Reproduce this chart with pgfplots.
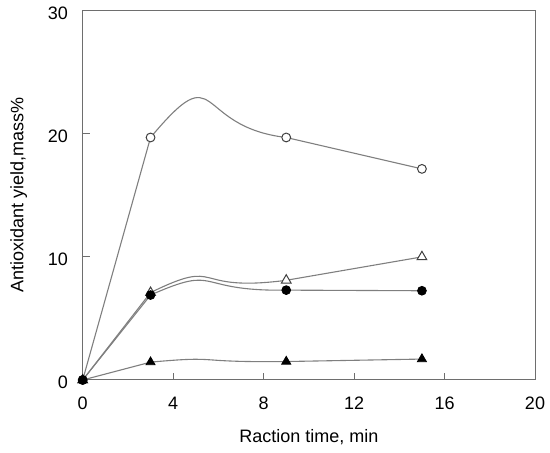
\documentclass[border=0pt]{standalone}
\usepackage{pgfplots}
\pgfplotsset{compat=1.18}
\usepackage{fontspec}
\setmainfont{Liberation Sans}
\definecolor{curvegray}{HTML}{7F7F7F}
\definecolor{framegray}{HTML}{6E6E6E}
\pgfplotsset{
  mycurve/.style={draw=curvegray, line width=0.55pt, mark=none, forget plot},
}
\begin{document}
\begin{tikzpicture}
\useasboundingbox (-41.35pt,-36.5pt) rectangle (233.65pt,190pt);
\begin{axis}[
  at={(0pt,0pt)}, anchor=south west,
  scale only axis, width=226.15pt, height=184.65pt,
  xmin=0, xmax=20, ymin=0, ymax=30,
  xtick={0,4,8,12,16,20}, ytick={0,10,20,30},
  tick align=inside, xtick pos=bottom, ytick pos=left,
  major tick length=3.5pt,
  axis line style={draw=framegray, line width=0.5pt},
  every tick/.style={draw=framegray, line width=0.5pt},
  /pgf/number format/assume math mode=true,
  every tick label/.append style={font=\fontsize{9}{11}\selectfont, text=black},
  xticklabel style={anchor=base, yshift=-14.6pt, inner sep=0pt},
  yticklabel style={anchor=east, xshift=-7.2pt, yshift=-1.2pt, inner sep=0pt},
  xlabel={Raction time, min},
  ylabel={Antioxidant yield,mass\%},
  label style={font=\fontsize{9}{11}\selectfont},
  xlabel style={at={(axis description cs:0.5,0)}, anchor=base, yshift=-31.5pt, inner sep=0pt},
  ylabel style={at={(axis description cs:-0.1607,0.5)}, anchor=north, inner sep=0pt},
]
% open circles
\addplot[mycurve] coordinates {(0,0)(3,19.7)};
\begin{scope}
\clip (axis cs:3,-5) rectangle (axis cs:9,35);
\addplot[mycurve, smooth, tension=1.25] coordinates {(0,0)(3,19.7)(9,19.7)(15,17.15)};
\end{scope}
\addplot[mycurve] coordinates {(9,19.7)(15,17.15)};
% open triangles
\addplot[mycurve] coordinates {(0,0)(3,7.1)};
\begin{scope}
\clip (axis cs:3,-5) rectangle (axis cs:9,35);
\addplot[mycurve, smooth, tension=1.3] coordinates {(0,0)(3,7.1)(9,8.1)(15,10.0)};
\end{scope}
\addplot[mycurve] coordinates {(9,8.1)(15,10.0)};
% filled circles
\addplot[mycurve] coordinates {(0,0)(3,6.9)};
\begin{scope}
\clip (axis cs:3,-5) rectangle (axis cs:9,35);
\addplot[mycurve, smooth, tension=1.25] coordinates {(0,0)(3,6.9)(9,7.3)(15,7.25)};
\end{scope}
\addplot[mycurve] coordinates {(9,7.3)(15,7.25)};
% filled triangles
\addplot[mycurve] coordinates {(0,0)(3,1.45)};
\begin{scope}
\clip (axis cs:3,-5) rectangle (axis cs:9,35);
\addplot[mycurve, smooth, tension=1.3] coordinates {(0,0)(3,1.45)(9,1.5)(15,1.7)};
\end{scope}
\addplot[mycurve] coordinates {(9,1.5)(15,1.7)};
% markers
\addplot[only marks, mark=*, mark size=2.2pt, mark options={draw=black!75, fill=white, line width=0.5pt}]
  coordinates {(0,0)(3,19.7)(9,19.7)(15,17.15)};
\addplot[only marks, mark=triangle*, mark size=2.8pt, mark options={draw=black!75, fill=white, line width=0.5pt}]
  coordinates {(0,0)(3,7.1)(9,8.1)(15,10.0)};
\addplot[only marks, mark=*, mark size=2.2pt, mark options={draw=black, fill=black, line width=0.4pt}]
  coordinates {(0,0)(3,6.9)(9,7.3)(15,7.25)};
\addplot[only marks, mark=triangle*, mark size=2.6pt, mark options={draw=black, fill=black, line width=0.4pt}]
  coordinates {(0,0)(3,1.45)(9,1.5)(15,1.7)};
\end{axis}
\end{tikzpicture}
\end{document}
